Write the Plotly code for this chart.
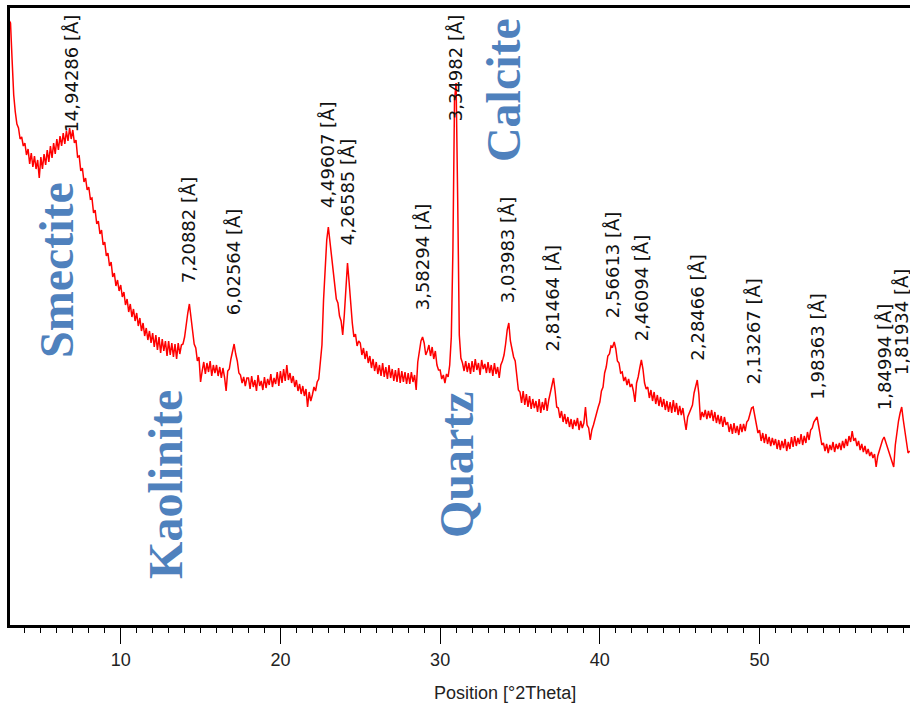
import numpy as np
import plotly.graph_objects as go

# ---- XRD scan (Co K-alpha), intensity in arbitrary units, sampled every 0.1 deg from 3.0 deg ----
start_2theta = 3.0
step_2theta = 0.1
intensity = [
    607, 604, 567, 532, 515, 503, 499, 488, 490, 481,   # 3
    484, 472, 478, 463, 474, 460, 471, 458, 467, 449,   # 4
    470, 458, 473, 462, 477, 465, 481, 469, 484, 473,   # 5
    488, 477, 491, 481, 494, 483, 496, 486, 499, 488,   # 6
    497, 484, 487, 470, 471, 456, 459, 445, 449, 437,   # 7
    440, 428, 429, 414, 417, 403, 406, 393, 397, 382,   # 8
    385, 371, 374, 361, 365, 350, 354, 341, 347, 336,   # 9
    342, 330, 335, 322, 328, 315, 323, 310, 318, 306,   # 10
    314, 301, 309, 296, 304, 291, 299, 287, 296, 284,   # 11
    294, 280, 292, 277, 290, 274, 288, 276, 286, 271,   # 12
    286, 272, 284, 270, 283, 268, 284, 273, 282, 283,   # 13
    290, 304, 314, 323, 311, 300, 283, 279, 266, 270,   # 14
    245, 256, 265, 253, 264, 255, 266, 251, 262, 254,   # 15
    262, 251, 260, 249, 259, 250, 236, 256, 258, 268,   # 16
    276, 283, 273, 266, 254, 252, 244, 250, 241, 249,   # 17
    249, 238, 251, 240, 247, 236, 252, 241, 246, 237,   # 18
    250, 239, 248, 242, 253, 240, 249, 243, 255, 241,   # 19
    256, 244, 258, 246, 262, 247, 254, 244, 251, 240,   # 20
    247, 236, 243, 233, 241, 231, 238, 220, 235, 226,   # 21
    232, 240, 236, 245, 248, 262, 282, 327, 362, 387,   # 22
    400, 385, 370, 356, 344, 328, 324, 311, 306, 292,   # 23
    312, 340, 364, 345, 320, 304, 290, 293, 281, 286,   # 24
    284, 272, 279, 268, 276, 264, 271, 259, 268, 256,   # 25
    265, 253, 262, 251, 264, 250, 260, 248, 262, 249,   # 26
    258, 246, 257, 245, 259, 244, 256, 245, 255, 243,   # 27
    254, 243, 255, 245, 252, 237, 265, 277, 286, 290,   # 28
    284, 272, 276, 282, 271, 280, 268, 276, 262, 257,   # 29
    257, 248, 252, 244, 253, 250, 262, 290, 377, 527,   # 30
    544, 427, 292, 269, 264, 256, 266, 255, 264, 253,   # 31
    266, 255, 268, 257, 264, 252, 267, 258, 263, 254,   # 32
    265, 254, 262, 251, 264, 253, 260, 249, 262, 266,   # 33
    272, 283, 297, 304, 286, 278, 270, 266, 250, 237,   # 34
    235, 224, 236, 222, 233, 220, 231, 218, 228, 219,   # 35
    226, 215, 228, 214, 225, 217, 229, 216, 227, 234,   # 36
    242, 249, 236, 220, 219, 209, 216, 205, 213, 203,   # 37
    210, 200, 208, 198, 207, 201, 209, 197, 206, 199,   # 38
    204, 220, 202, 199, 187, 197, 202, 207, 214, 220,   # 39
    225, 236, 240, 254, 260, 271, 273, 281, 280, 285,   # 40
    278, 266, 264, 254, 255, 246, 250, 242, 248, 240,   # 41
    243, 236, 225, 244, 250, 259, 267, 258, 244, 238,   # 42
    240, 229, 237, 226, 235, 223, 232, 221, 230, 220,   # 43
    228, 217, 226, 215, 225, 214, 227, 215, 224, 212,   # 44
    221, 212, 219, 207, 197, 210, 214, 218, 222, 234,   # 45
    242, 247, 233, 207, 215, 210, 217, 208, 216, 209,   # 46
    217, 206, 215, 204, 212, 203, 211, 200, 210, 202,   # 47
    205, 195, 203, 193, 204, 194, 201, 192, 203, 195,   # 48
    203, 196, 205, 207, 213, 219, 220, 210, 201, 194,   # 49
    197, 186, 194, 184, 193, 183, 190, 181, 189, 182,   # 50
    188, 178, 187, 177, 186, 179, 188, 176, 185, 178,   # 51
    190, 180, 191, 181, 189, 183, 193, 182, 191, 184,   # 52
    195, 187, 197, 199, 205, 207, 210, 201, 190, 182,   # 53
    184, 176, 183, 174, 182, 177, 185, 175, 183, 178,   # 54
    184, 177, 186, 179, 188, 181, 191, 185, 196, 186,   # 55
    189, 181, 186, 177, 183, 175, 181, 173, 178, 171,   # 56
    175, 169, 173, 160, 171, 177, 183, 187, 190, 184,   # 57
    180, 175, 170, 167, 160, 182, 195, 206, 214, 220,   # 58
    207, 194, 184, 174, 176,                            # 59
]
two_theta = np.round(start_2theta + step_2theta * np.arange(len(intensity)), 2)

# ---- labelled reflections: d-spacing (Angstrom) and intensity level where each label starts ----
wavelength = 1.78901  # Co K-alpha1
peak_d = [14.94286, 7.20882, 6.02564, 4.49607, 4.26585, 3.58294, 3.34982, 3.03983,
          2.81464, 2.56613, 2.46094, 2.28466, 2.13267, 1.98363, 1.84994, 1.81934]
peak_text = ["14,94286 [Å]", "7,20882 [Å]", "6,02564 [Å]", "4,49607 [Å]", "4,26585 [Å]",
             "3,58294 [Å]", "3,34982 [Å]", "3,03983 [Å]", "2,81464 [Å]", "2,56613 [Å]",
             "2,46094 [Å]", "2,28466 [Å]", "2,13267 [Å]", "1,98363 [Å]", "1,84994 [Å]",
             "1,81934 [Å]"]
label_base = [492, 342, 310, 417, 380, 315, 504, 322, 274, 307, 284, 264, 240, 225, 215, 250]
peak_2theta = [2 * np.degrees(np.arcsin(wavelength / (2 * d))) for d in peak_d]

# ---- mineral phase names ----
phase_names = ["Smectite", "Kaolinite", "Quartz", "Calcite"]
phase_2theta = [5.95, 12.77, 31.0, 33.94]
phase_level = [357, 143, 162, 537]

x_title = "Position [°2Theta]"

fig = go.Figure()
fig.add_trace(go.Scatter(x=two_theta, y=intensity, mode="lines",
                         line=dict(color="#FF0000", width=1.5), showlegend=False,
                         hoverinfo="skip"))

for xp, yb, t in zip(peak_2theta, label_base, peak_text):
    fig.add_annotation(x=xp, y=yb, xref="x", yref="y", text=t, textangle=-90,
                       showarrow=False, xanchor="center", yanchor="bottom",
                       font=dict(family="DejaVu Sans", size=18, color="#111111"))

for name, xp, yl in zip(phase_names, phase_2theta, phase_level):
    fig.add_annotation(x=xp, y=yl, xref="x", yref="y", text=name, textangle=-90,
                       showarrow=False, xanchor="center", yanchor="middle",
                       font=dict(family="Liberation Serif", size=48, color="#4F81BD",
                                 weight="bold"))

fig.add_annotation(x=34.06, y=-0.110, xref="x", yref="paper", text=x_title,
                   showarrow=False, xanchor="center", yanchor="middle",
                   font=dict(family="Liberation Sans", size=18, color="#222222"))

fig.update_layout(
    width=910, height=707,
    margin=dict(l=10, r=0, t=8, b=82),
    paper_bgcolor="white", plot_bgcolor="white",
    showlegend=False,
    xaxis=dict(range=[3.068, 59.42], showgrid=False, zeroline=False,
               showline=True, linecolor="black", linewidth=3, mirror=True,
               ticks="outside", ticklen=16, tickwidth=1, tickcolor="black",
               tick0=0, dtick=10,
               minor=dict(ticks="outside", ticklen=5, tickwidth=1, tickcolor="black", dtick=1),
               tickfont=dict(family="Liberation Sans", size=18, color="#222222")),
    yaxis=dict(range=[2, 619], showgrid=False, zeroline=False, showticklabels=False,
               showline=True, linecolor="black", linewidth=3, mirror=False, ticks=""),
)

fig.write_html("out.html")
